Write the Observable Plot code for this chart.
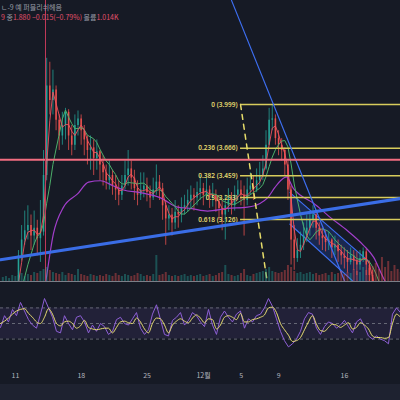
<!DOCTYPE html>
<html><head><meta charset="utf-8">
<script src="https://cdn.jsdelivr.net/npm/d3@7"></script>
<script src="https://cdn.jsdelivr.net/npm/@observablehq/plot@0.6"></script>
<style>
html,body{margin:0;padding:0;background:#161a25;}
#wrap{position:relative;width:400px;height:400px;overflow:hidden;background:#161a25;font-family:"Noto Sans CJK KR","Noto Sans",sans-serif;}
.pane{position:absolute;left:0;width:400px;overflow:hidden;}
.pane svg{display:block;background:transparent;}
.hdr{position:absolute;left:1px;font-size:7px;line-height:8px;white-space:nowrap;}
#hdr1{top:3px;color:#9a9ea8;}
#hdr2{top:13px;color:#e2506a;}
#hdr2 .g{color:#9a9ea8;}
#footer{position:absolute;left:0;top:384px;width:400px;height:16px;background:#1e2230;}
</style></head>
<body>
<div id="wrap">
  <div class="pane" id="price" style="top:0;height:281px"></div>
  <div class="pane" id="vol" style="top:241px;height:41px"></div>
  <div class="pane" id="rsi" style="top:284px;height:100px"></div>
  <div id="footer"></div>
  <div class="hdr" id="hdr1"></div>
  <div class="hdr" id="hdr2"></div>
</div>
<script>
// ---- data ----
const headerTitle = "ㄴ-9 예 퍼블리쉬헤음";
const headerQuote = [["9 ", ""], ["종", "g"], ["1.880 −0.015(−0.79%) ", ""], ["볼륨", "g"], ["1.014K", ""]];

// time axis: days after Nov 1 (Nov 11 = 10, Dec 1 = 30)
const xDomain = [8.404, 50.957];
const tickDays = [10, 17, 24, 30, 34, 38, 45];
const tickLabels = ["11", "18", "25", "12월", "5", "9", "16"];

const priceDomain = [2.655, 4.789];
const candleStart = 8.65;      // day of first 8h candle
const candleStep = 1 / 3;      // 8 hours

const closes = [2.40,2.43,2.46,2.50,2.58,
 2.85,2.97,3.04,3.08,3.00,3.06,2.98,3.03,3.46,4.14,
 4.03,4.11,3.88,3.76,3.84,3.94,3.76,3.69,3.84,3.89,
 3.80,3.73,3.65,3.67,3.59,3.64,3.54,3.48,3.42,3.46,
 3.38,3.35,3.31,3.38,3.46,3.51,3.44,3.36,3.31,3.35,
 3.38,3.33,3.29,3.35,3.41,3.36,3.23,3.13,3.16,3.10,
 3.18,3.16,3.21,3.23,3.27,3.31,3.29,3.33,3.36,3.31,
 3.35,3.29,3.31,3.26,3.21,3.16,3.23,3.29,3.23,3.31,
 3.35,3.31,3.27,3.35,3.38,3.35,3.42,3.46,3.51,3.69,
 3.88,3.89,3.74,3.69,3.65,3.54,3.35,2.97,2.83,2.89,
 2.93,3.00,3.06,3.12,3.16,3.06,3.00,2.98,2.95,2.97,
 2.91,2.93,2.88,2.85,2.83,2.80,2.85,2.81,2.78,2.83,
 2.88,2.78,2.70,2.59,2.47,2.36,
 2.25,2.15,2.05,2.00,1.95,1.90,1.88];
const highs = [2.45,2.47,2.50,2.55,2.64,
 2.89,3.08,3.19,3.23,3.16,3.19,3.12,3.27,3.65,4.35,
 4.32,4.26,4.14,3.92,3.94,3.97,3.96,3.84,3.92,3.95,
 3.92,3.84,3.76,3.76,3.73,3.73,3.65,3.61,3.54,3.57,
 3.50,3.46,3.42,3.46,3.57,3.65,3.57,3.50,3.42,3.48,
 3.48,3.44,3.38,3.44,3.54,3.46,3.40,3.27,3.23,3.21,
 3.27,3.23,3.29,3.31,3.35,3.38,3.36,3.41,3.46,3.40,
 3.44,3.38,3.40,3.35,3.30,3.27,3.31,3.36,3.33,3.38,
 3.42,3.42,3.38,3.44,3.48,3.46,3.51,3.56,3.61,3.80,
 3.97,4.00,3.92,3.80,3.74,3.67,3.57,3.38,3.08,2.98,
 3.03,3.10,3.16,3.19,3.23,3.18,3.10,3.06,3.04,3.03,
 2.98,3.00,2.97,2.93,2.91,2.89,2.91,2.89,2.88,2.89,
 2.91,2.90,2.81,2.74,2.62,2.51,
 2.38,2.27,2.17,2.08,2.02,1.97,1.93];
const lows = [2.35,2.38,2.40,2.44,2.50,
 2.55,2.81,2.93,2.97,2.89,2.93,2.85,2.80,3.00,3.42,
 3.92,3.92,3.80,3.65,3.69,3.73,3.65,3.61,3.65,3.76,
 3.69,3.61,3.54,3.50,3.46,3.50,3.42,3.38,3.35,3.35,
 3.31,3.27,3.23,3.27,3.35,3.38,3.35,3.27,3.23,3.27,
 3.29,3.26,3.21,3.27,3.31,3.27,3.12,2.93,3.04,3.00,
 3.05,3.06,3.10,3.16,3.18,3.21,3.19,3.23,3.27,3.23,
 3.27,3.21,3.22,3.18,3.12,3.04,2.97,3.18,3.16,3.19,
 3.27,3.23,3.00,3.23,3.31,3.27,3.33,3.38,3.42,3.50,
 3.69,3.80,3.69,3.61,3.57,3.46,3.27,2.78,2.74,2.80,
 2.83,2.89,2.95,3.00,3.06,2.97,2.93,2.89,2.88,2.89,
 2.83,2.85,2.80,2.78,2.75,2.72,2.78,2.74,2.70,2.74,
 2.80,2.70,2.62,2.51,2.40,2.28,
 2.20,2.10,2.00,1.95,1.90,1.86,1.84];
const volumes = [4,5,3,6,5,
 6,8,5,7,6,9,8,10,12,
 14,11,9,8,
 7,9,6,8,7,6,12,7,6,5,7,6,
 5,6,5,7,6,5,8,6,5,7,6,5,6,8,7,5,
 6,5,7,26,6,
 7,9,6,5,6,5,6,7,5,6,5,6,7,5,6,7,5,6,8,9,16,7,6,5,6,8,12,6,5,7,8,9,10,
 12,14,10,9,8,9,11,16,14,10,8,9,
 7,8,9,7,8,6,7,8,6,9,7,8,10,7,9,8,12,10,9,14,11,13,15,18,12,
 24,14,20,10,16,12,9];

// long moving average (purple)
const longMaT = [12.66,13.19,14.04,15.11,16.60,17.77,19.04,20.43,21.49,23.30,25.43,27.23,28.62,30.43,32.55,34.68,36.06,36.81,37.60,38.19,38.83,39.57,40.32,41.70,43.51,45.32,47.02,48.09,49.15,49.89];
const longMaP = [2.40,2.64,3.02,3.22,3.32,3.41,3.42,3.38,3.35,3.33,3.29,3.22,3.21,3.19,3.21,3.22,3.25,3.29,3.37,3.42,3.45,3.36,3.31,3.25,3.14,3.04,2.93,2.84,2.68,2.59];

// drawings
const redLevel = 3.58;
const markerDay = 13.19;
const fibLevels = [0, 0.236, 0.382, 0.5, 0.618];
const fibPrices = [3.999, 3.666, 3.459, 3.293, 3.126];
const fibStartDay = 33.94;
const fibDashT = [33.94, 36.92];
const fibDashP = [3.999, 2.586];
const riseT = [8.404, 50.957];
const riseP = [2.82, 3.285];
const fallT = [32.98, 45.0];
const fallP = [4.79, 2.66];
const channelT = [39.2, 47.55];
const channelUpper = [3.33, 2.81];
const channelLower = [3.09, 2.55];

// RSI pane
const rsiStart = 8.404, rsiStep = 0.4255;
const rsiValues = [45,60,52,68,60,77,66,55,48,44,
 62,82,70,58,40,38,60,50,42,58,
 60,52,38,48,40,50,46,36,40,55,
 58,50,48,56,64,44,36,42,62,74,
 55,36,34,54,58,64,48,54,64,60,
 52,46,68,48,36,58,66,58,52,62,
 66,44,56,52,60,62,70,82,72,56,
 40,28,20,24,30,40,56,64,62,44,
 36,46,52,50,44,48,54,46,38,52,
 56,46,34,30,34,30,28,24,62,70,
 64];
const rsiSignal = [50,53,57,62,66,68,69,63,58,52,
 50,58,69,62,50,47,52,53,50,44,
 47,54,45,43,42,43,44,44,38,45,
 52,53,51,50,57,52,43,38,50,57,
 56,48,38,48,53,56,53,51,57,61,
 57,51,56,55,43,48,58,60,58,55,
 63,52,52,55,56,58,61,70,71,64,
 50,42,35,27,28,32,42,52,60,49,
 41,40,45,49,48,45,48,51,43,45,
 51,48,43,34,32,32,31,32,50,62,
 58];
const rsiBands = [70, 50, 30];

// ---- build ----
const UP = "#26a69a", DOWN = "#ef5350";
const candles = closes.map((c, i) => ({
  t: candleStart + i * candleStep,
  o: i === 0 ? c : closes[i - 1],
  c, h: highs[i], l: lows[i], v: volumes[i]
}));
const col = d => d.c >= d.o ? UP : DOWN;
const longMa = longMaT.map((t, i) => ({t, p: longMaP[i]}));
const fib = fibPrices.map((p, i) => ({p, label: `${fibLevels[i]} (${p.toFixed(3)})`}));
const rise = riseT.map((t, i) => ({t, p: riseP[i]}));
const fall = fallT.map((t, i) => ({t, p: fallP[i]}));
const fibDash = fibDashT.map((t, i) => ({t, p: fibDashP[i]}));
const channel = channelT.map((t, i) => ({t, hi: channelUpper[i], lo: channelLower[i]}));
const rsi = rsiValues.map((v, i) => ({t: rsiStart + i * rsiStep, v, m: rsiSignal[i]}));

document.getElementById("hdr1").textContent = headerTitle;
const h2 = document.getElementById("hdr2");
headerQuote.forEach(([s, c]) => { const sp = document.createElement("span"); sp.textContent = s; if (c) sp.className = c; h2.appendChild(sp); });

const pricePlot = Plot.plot({
  width: 400, height: 281, margin: 0,
  style: {background: "transparent"},
  x: {domain: xDomain, axis: null},
  y: {domain: priceDomain, axis: null},
  marks: [
    Plot.areaY(channel, {x: "t", y1: "lo", y2: "hi", fill: "#2962ff", fillOpacity: 0.2, clip: true}),
    Plot.line(channel, {x: "t", y: "hi", stroke: "#3d6ef0", strokeWidth: 1.2, clip: true}),
    Plot.line(channel, {x: "t", y: "lo", stroke: "#3d6ef0", strokeWidth: 1.2, clip: true}),
    Plot.ruleX(candles, {x: "t", y1: "l", y2: "h", stroke: col, strokeWidth: 1, strokeOpacity: 0.75, clip: true}),
    Plot.ruleX(candles, {x: "t", y1: "o", y2: "c", stroke: col, strokeWidth: 1.6, strokeOpacity: 0.9, clip: true}),
    Plot.line(longMa, {x: "t", y: "p", stroke: "#a23ecb", strokeWidth: 1.2, curve: "monotone-x", clip: true}),
    Plot.lineY(candles, Plot.windowY({k: 7, anchor: "end"}, {x: "t", y: "c", stroke: "#4caf6a", strokeWidth: 1, clip: true})),
    Plot.lineY(candles, Plot.windowY({k: 3, anchor: "end"}, {x: "t", y: "c", stroke: "#f0525f", strokeWidth: 1, strokeOpacity: 0.9, clip: true})),
    Plot.ruleY(fib, {y: "p", x1: fibStartDay, x2: xDomain[1], stroke: "#d8cc5c", strokeWidth: 1.5, clip: true}),
    Plot.line(fibDash, {x: "t", y: "p", stroke: "#e6dc6a", strokeWidth: 1.5, strokeDasharray: "5,5", clip: true}),
    Plot.text(fib, {x: fibStartDay, y: "p", text: "label", textAnchor: "end", dx: -3, fill: "#e3d86e", fontSize: 6.5, fontWeight: 600, fontFamily: "Noto Sans"}),
    Plot.line(rise, {x: "t", y: "p", stroke: "#3a6de6", strokeWidth: 3, clip: true}),
    Plot.line(fall, {x: "t", y: "p", stroke: "#3d6ef0", strokeWidth: 1.2, clip: true}),
    Plot.ruleY([redLevel], {stroke: "#f26d80", strokeWidth: 2}),
    Plot.ruleX([markerDay], {stroke: "#c23a5a", strokeWidth: 1})
  ]
});
document.getElementById("price").appendChild(pricePlot);

const volPlot = Plot.plot({
  width: 400, height: 41, marginTop: 0, marginBottom: 1, marginLeft: 0, marginRight: 0,
  style: {background: "transparent"},
  x: {domain: xDomain, axis: null},
  y: {domain: [0, 40], axis: null},
  marks: [
    Plot.ruleX(candles, {x: "t", y1: 0, y2: "v", stroke: col, strokeWidth: 2, strokeOpacity: 0.4, clip: true}),
    Plot.ruleY([0], {stroke: "#9598a1", strokeWidth: 1, strokeOpacity: 0.8})
  ]
});
document.getElementById("vol").appendChild(volPlot);

const rsiPlot = Plot.plot({
  width: 400, height: 100, marginTop: 0, marginBottom: 22, marginLeft: 0, marginRight: 0,
  style: {background: "transparent", color: "#b2b5be", fontSize: "7px", fontFamily: "Noto Sans CJK KR"},
  x: {domain: xDomain, ticks: tickDays, tickFormat: d => tickLabels[tickDays.indexOf(d)], tickSize: 0, tickPadding: 11, label: null},
  y: {domain: [0, 100], axis: null},
  marks: [
    Plot.areaY(rsi, {x: "t", y1: rsiBands[2], y2: rsiBands[0], fill: "#7e57c2", fillOpacity: 0.12}),
    Plot.ruleY(rsiBands, {stroke: "#787b86", strokeDasharray: "3,3", strokeOpacity: 0.8}),
    Plot.line(rsi, {x: "t", y: "v", stroke: "#8e5fd6", strokeWidth: 1}),
    Plot.line(rsi, {x: "t", y: "m", stroke: "#e8dd72", strokeWidth: 1, curve: "monotone-x"})
  ]
});
document.getElementById("rsi").appendChild(rsiPlot);
</script>
</body></html>
